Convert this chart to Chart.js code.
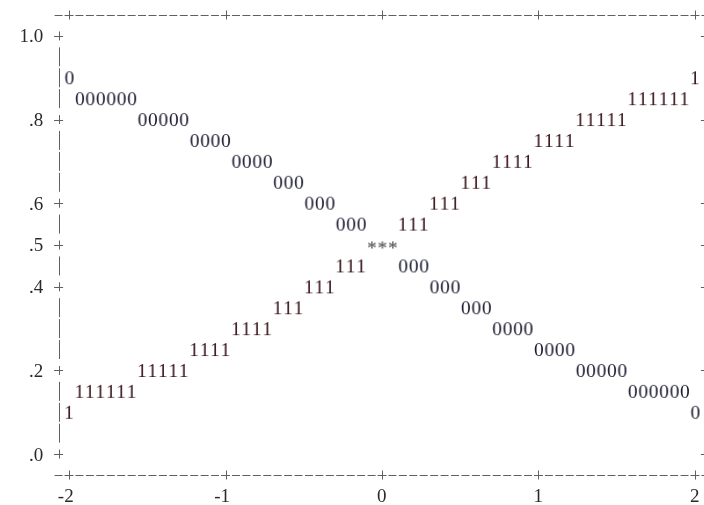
<!DOCTYPE html>
<html><head><meta charset="utf-8">
<script src="https://cdn.jsdelivr.net/npm/chart.js@4.4.1/dist/chart.umd.min.js"></script>
<style>html,body{margin:0;padding:0;background:#fff;overflow:hidden}#wrap{width:704px;height:505px;position:relative;overflow:hidden}</style>
</head><body><div id="wrap"><canvas id="c" width="720" height="505"></canvas></div>
<script>
// x position of every printed character column
const xPositions = [-2, -1.933, -1.867, -1.8, -1.733, -1.667, -1.6, -1.533, -1.467, -1.4,
  -1.333, -1.267, -1.2, -1.133, -1.067, -1, -0.933, -0.867, -0.8, -0.733,
  -0.667, -0.6, -0.533, -0.467, -0.4, -0.333, -0.267, -0.2, -0.133, -0.067,
  0, 0.067, 0.133, 0.2, 0.267, 0.333, 0.4, 0.467, 0.533, 0.6,
  0.667, 0.733, 0.8, 0.867, 0.933, 1, 1.067, 1.133, 1.2, 1.267,
  1.333, 1.4, 1.467, 1.533, 1.6, 1.667, 1.733, 1.8, 1.867, 1.933, 2];
// plotted value of symbol "0"
const series0 = [0.90, 0.85, 0.85, 0.85, 0.85, 0.85, 0.85, 0.80, 0.80, 0.80,
  0.80, 0.80, 0.75, 0.75, 0.75, 0.75, 0.70, 0.70, 0.70, 0.70,
  0.65, 0.65, 0.65, 0.60, 0.60, 0.60, 0.55, 0.55, 0.55, 0.50,
  0.50, 0.50, 0.45, 0.45, 0.45, 0.40, 0.40, 0.40, 0.35, 0.35,
  0.35, 0.30, 0.30, 0.30, 0.30, 0.25, 0.25, 0.25, 0.25, 0.20,
  0.20, 0.20, 0.20, 0.20, 0.15, 0.15, 0.15, 0.15, 0.15, 0.15, 0.10];
// plotted value of symbol "1"
const series1 = [0.10, 0.15, 0.15, 0.15, 0.15, 0.15, 0.15, 0.20, 0.20, 0.20,
  0.20, 0.20, 0.25, 0.25, 0.25, 0.25, 0.30, 0.30, 0.30, 0.30,
  0.35, 0.35, 0.35, 0.40, 0.40, 0.40, 0.45, 0.45, 0.45, 0.50,
  0.50, 0.50, 0.55, 0.55, 0.55, 0.60, 0.60, 0.60, 0.65, 0.65,
  0.65, 0.70, 0.70, 0.70, 0.70, 0.75, 0.75, 0.75, 0.75, 0.80,
  0.80, 0.80, 0.80, 0.80, 0.85, 0.85, 0.85, 0.85, 0.85, 0.85, 0.90];
const seriesSymbols = ['0', '1'];
const overlapSymbol = '*';
const xTicks = [-2, -1, 0, 1, 2];
const xTickLabels = ['-2', '-1', '0', '1', '2'];
const yTicks = [0, 0.2, 0.4, 0.5, 0.6, 0.8, 1.0];
const yTickLabels = ['.0', '.2', '.4', '.5', '.6', '.8', '1.0'];

// text-grid geometry of the line-printer plot
const columnsPerUnit = 15;
const rowStep = 0.05;
const FAMILY = '"Liberation Serif", "DejaVu Serif", serif';
const GLYPH_FONT = '19.5px ' + FAMILY;
const FRAME_COLOR = '#606060';

function makeGlyph(ch, color) {
  const m = document.createElement('canvas').getContext('2d');
  m.font = GLYPH_FONT;
  const mt = m.measureText(ch);
  const asc = mt.actualBoundingBoxAscent, desc = mt.actualBoundingBoxDescent;
  const l = mt.actualBoundingBoxLeft, r = mt.actualBoundingBoxRight;
  const w = Math.ceil(l + r) + 4, h = Math.ceil(asc + desc) + 4;
  const c = document.createElement('canvas');
  c.width = w; c.height = h;
  const g = c.getContext('2d');
  g.font = GLYPH_FONT;
  g.fillStyle = color;
  g.textBaseline = 'alphabetic';
  g.fillText(ch, w / 2 - (r - l) / 2, h / 2 + (asc - desc) / 2);
  return c;
}

const near = (a, b) => Math.abs(a - b) < 1e-6;
const noPadding = s => {
  s.paddingLeft = 0; s.paddingRight = 0; s.paddingTop = 0; s.paddingBottom = 0;
  if (s._margins) { s._margins.right = 0; s._margins.top = 0; s._margins.bottom = 0; }
};

const framePlugin = {
  id: 'printerFrame',
  afterDatasetsDraw(chart) {
    const {ctx, scales: {x, y}} = chart;
    const colStep = 1 / columnsPerUnit;
    const nCols = Math.round((x.max - x.min) / colStep);
    const nRows = Math.round((y.max - y.min) / rowStep);
    ctx.save();
    ctx.strokeStyle = FRAME_COLOR;
    ctx.lineWidth = 1;
    const hline = (x0, x1, yy) => { const py = Math.round(yy) + 0.5; ctx.beginPath(); ctx.moveTo(x0, py); ctx.lineTo(x1, py); ctx.stroke(); };
    const vline = (xx, y0, y1) => { const px = Math.round(xx) + 0.5; ctx.beginPath(); ctx.moveTo(px, y0); ctx.lineTo(px, y1); ctx.stroke(); };
    const dash = (cx, cy) => hline(cx - 4, cx + 4, cy);
    const plus = (cx, cy) => { hline(cx - 4.5, cx + 4.5, cy); vline(cx, cy - 4.5, cy + 4.5); };
    const bar = (cx, cy) => vline(cx, cy - 9.5, cy + 9.5);
    // top and bottom dashed rules with '+' at x ticks
    [y.min, y.max].forEach(v => {
      const cy = y.getPixelForValue(v);
      for (let c = 0; c <= nCols; c++) {
        const xv = x.min + c * colStep;
        const cx = x.getPixelForValue(xv);
        if (xTicks.some(t => near(t, xv))) plus(cx, cy); else dash(cx, cy);
      }
    });
    // left and right vertical rules with '+' at y ticks
    [x.min, x.max].forEach(xv => {
      const cx = x.getPixelForValue(xv);
      for (let r = 1; r < nRows; r++) {
        const v = y.min + r * rowStep;
        const cy = y.getPixelForValue(v);
        if (yTicks.some(t => near(t, v))) plus(cx, cy); else bar(cx, cy);
      }
    });
    ctx.restore();
  }
};

function draw() {
  const glyph0 = makeGlyph(seriesSymbols[0], '#1a1a30');
  const glyph1 = makeGlyph(seriesSymbols[1], '#361218');
  const glyphStar = makeGlyph(overlapSymbol, '#404040');
  const overlapAt = i => series0[i] === series1[i];
  const tickFont = {family: FAMILY, size: 19};

  new Chart(document.getElementById('c'), {
    type: 'scatter',
    data: {
      datasets: [
        {
          label: seriesSymbols[0],
          data: xPositions.map((xv, i) => ({x: xv, y: series0[i]})),
          pointStyle: ctx => overlapAt(ctx.dataIndex) ? glyphStar : glyph0,
          pointRadius: 5,
          showLine: false
        },
        {
          label: seriesSymbols[1],
          data: xPositions.map((xv, i) => ({x: xv, y: series1[i]})),
          pointStyle: glyph1,
          pointRadius: ctx => overlapAt(ctx.dataIndex) ? 0 : 5,
          showLine: false
        }
      ]
    },
    options: {
      responsive: false,
      animation: false,
      events: [],
      layout: {padding: {top: 15, right: 14.6, bottom: 0, left: 0}},
      plugins: {legend: {display: false}, tooltip: {enabled: false}},
      scales: {
        x: {
          type: 'linear',
          min: xTicks[0] - 1 / columnsPerUnit,
          max: xTicks[xTicks.length - 1] + 1 / columnsPerUnit,
          afterBuildTicks: s => { s.ticks = xTicks.map(v => ({value: v})); },
          afterFit: s => { s.height = 30; noPadding(s); },
          grid: {display: false, drawTicks: false},
          border: {display: false},
          ticks: {
            autoSkip: false, maxRotation: 0, minRotation: 0,
            align: 'end', labelOffset: 4.6, padding: 11,
            color: '#2a2a2a', font: tickFont,
            callback: v => xTickLabels[xTicks.findIndex(t => near(t, v))]
          }
        },
        y: {
          type: 'linear',
          min: -rowStep,
          max: 1 + rowStep,
          afterBuildTicks: s => { s.ticks = yTicks.map(v => ({value: v})); },
          afterFit: s => { s.width = 58.6; noPadding(s); },
          grid: {display: false, drawTicks: false},
          border: {display: false},
          ticks: {
            autoSkip: false, padding: 15.4, labelOffset: 1.5,
            color: '#2a2a2a', font: tickFont,
            callback: v => yTickLabels[yTicks.findIndex(t => near(t, v))]
          }
        }
      }
    },
    plugins: [framePlugin]
  });
}

if (document.fonts && document.fonts.load) {
  document.fonts.load(GLYPH_FONT).then(draw, draw);
} else {
  draw();
}
</script>
</body></html>
